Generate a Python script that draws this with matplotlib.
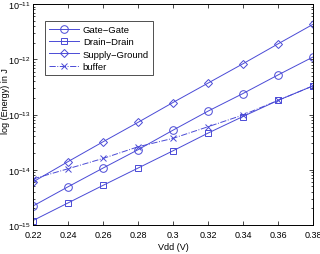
import matplotlib
matplotlib.use("Agg")
import matplotlib.pyplot as plt
from matplotlib.ticker import LogLocator, NullFormatter

vdd = [0.22, 0.24, 0.26, 0.28, 0.30, 0.32, 0.34, 0.36, 0.38]
gate_gate = [2.2e-15, 4.9e-15, 1.07e-14, 2.3e-14, 5.2e-14, 1.15e-13, 2.4e-13, 5.2e-13, 1.1e-12]
drain_drain = [1.2e-15, 2.5e-15, 5.2e-15, 1.07e-14, 2.2e-14, 4.6e-14, 9.2e-14, 1.8e-13, 3.3e-13]
supply_ground = [6.0e-15, 1.4e-14, 3.2e-14, 7.2e-14, 1.65e-13, 3.7e-13, 8.3e-13, 1.9e-12, 4.3e-12]
buffer_vals = [6.8e-15, 1.04e-14, 1.6e-14, 2.6e-14, 3.7e-14, 6.0e-14, 9.8e-14, 1.8e-13, 3.3e-13]
xticks = [0.22, 0.24, 0.26, 0.28, 0.3, 0.32, 0.34, 0.36, 0.38]
xtick_labels = ["0.22", "0.24", "0.26", "0.28", "0.3", "0.32", "0.34", "0.36", "0.38"]

plt.rcParams['font.family'] = ['Liberation Sans', 'DejaVu Sans']
plt.rcParams['mathtext.fontset'] = 'custom'
plt.rcParams['mathtext.rm'] = 'Liberation Sans'
plt.rcParams['mathtext.it'] = 'Liberation Sans'
plt.rcParams['mathtext.bf'] = 'Liberation Sans'
col = '#4a4ad6'
fs = 6.5

fig = plt.figure(figsize=(3.2, 2.55), dpi=100)
ax = fig.add_axes([0.103, 0.114, 0.875, 0.866])
ms = 5.5
ax.plot(vdd, gate_gate, '-o', color=col, mfc='none', ms=ms, lw=0.7, mew=0.7, label='Gate\u2212Gate')
ax.plot(vdd, drain_drain, '-s', color=col, mfc='none', ms=ms - 0.5, lw=0.7, mew=0.7, label='Drain\u2212Drain')
ax.plot(vdd, supply_ground, '-D', color=col, mfc='none', ms=ms - 1, lw=0.7, mew=0.7, label='Supply\u2212Ground')
ax.plot(vdd, buffer_vals, '-.x', color=col, mfc='none', ms=ms - 0.5, lw=0.7, mew=0.7, label='buffer')

ax.set_yscale('log')
ax.set_xlim(0.22, 0.38)
ax.set_ylim(1e-15, 1e-11)
ax.set_xticks(xticks)
ax.set_xticklabels(xtick_labels)
ax.yaxis.set_major_locator(LogLocator(base=10, numticks=10))
ax.yaxis.set_minor_locator(LogLocator(base=10, subs=range(2, 10), numticks=50))
ax.yaxis.set_minor_formatter(NullFormatter())
ax.tick_params(which='both', direction='in', top=True, right=True, labelsize=fs, length=3, width=0.5)
ax.tick_params(which='minor', length=1.5)
ax.tick_params(axis='y', pad=1.5)
for s in ax.spines.values():
    s.set_linewidth(0.7)
ax.set_xlabel('Vdd (V)', fontsize=fs, labelpad=2)
ax.set_ylabel('log (Energy) in J', fontsize=fs)
ax.yaxis.set_label_coords(-0.082, 0.566)

leg = ax.legend(loc='upper left', bbox_to_anchor=(0.043, 0.925), borderaxespad=0, fontsize=fs + 0.3,
                frameon=True, fancybox=False, edgecolor='black', handlelength=3.2, borderpad=0.45,
                labelspacing=0.35, handletextpad=0.35)
leg.get_frame().set_linewidth(0.6)

fig.savefig('out.png', dpi=100)
